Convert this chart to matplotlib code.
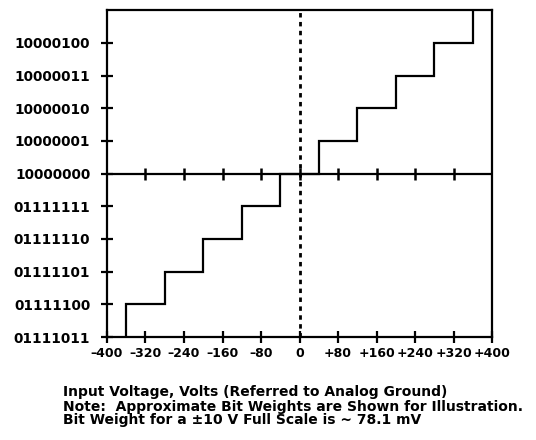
import matplotlib
matplotlib.use("Agg")
import matplotlib.pyplot as plt
import numpy as np

# code transition voltages and output code levels (0 = 10000000)
transitions = [-360, -280, -200, -120, -40, 40, 120, 200, 280, 360]
code_before = [-5, -4, -3, -2, -1, 0, 1, 2, 3, 4]
code_after = [-4, -3, -2, -1, 0, 1, 2, 3, 4, 5]

code_levels = [-5, -4, -3, -2, -1, 0, 1, 2, 3, 4]
code_labels = ["01111011", "01111100", "01111101", "01111110", "01111111",
               "10000000", "10000001", "10000010", "10000011", "10000100"]

volt_ticks = [-400, -320, -240, -160, -80, 0, 80, 160, 240, 320, 400]
volt_labels = ["\u2013400", "\u2013320", "\u2013240", "\u2013160", "\u201380", "0",
               "+80", "+160", "+240", "+320", "+400"]
mid_ticks = [-320, -240, -160, -80, 0, 80, 160, 240, 320]

notes = ["Input Voltage, Volts (Referred to Analog Ground)",
         "Note:  Approximate Bit Weights are Shown for Illustration.",
         "Bit Weight for a \u00b110 V Full Scale is ~ 78.1 mV"]

plt.rcParams['font.family'] = ['DejaVu Sans']
plt.rcParams['font.weight'] = 'bold'

fig = plt.figure(figsize=(5.36, 4.40), dpi=100)
ax = fig.add_axes([0.1996, 0.234, 0.7184, 0.743])

# staircase
sx = np.repeat(transitions, 2)
sy = np.ravel(np.column_stack([code_before, code_after]))
ax.plot(sx, sy, color="black", lw=1.6, solid_joinstyle="miter")

# middle axis at 10000000 with its tick marks
ax.axhline(0, color="black", lw=1.6)
ax.plot(mid_ticks, np.zeros(len(mid_ticks)), ls="none", marker="|",
        ms=9, mew=1.8, color="black")

# zero volt dashed line
ax.axvline(0, color="black", lw=2.0, ls=(0, (1.6, 1.6)))

ax.set_xlim(-400, 400)
ax.set_ylim(-5, 5)

ax.set_xticks(volt_ticks)
ax.set_xticklabels(volt_labels, fontsize=9, fontweight="bold")
ax.set_yticks(code_levels)
ax.set_yticklabels(code_labels, fontsize=9.8, fontweight="bold")

ax.tick_params(axis="both", direction="inout", length=8, width=1.6, color="black")
ax.tick_params(axis="y", pad=8)
ax.tick_params(axis="x", pad=3)

for s in ax.spines.values():
    s.set_linewidth(1.6)

ys = [0.109, 0.075, 0.045]
for t, y in zip(notes, ys):
    fig.text(0.1175, y, t, fontsize=10, fontweight="bold", va="center", ha="left")

fig.savefig("out.png", dpi=100)
